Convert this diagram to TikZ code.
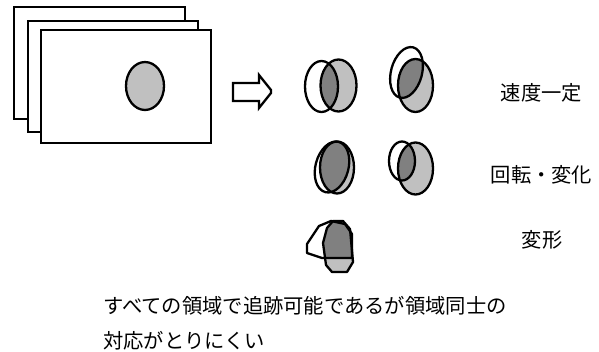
\documentclass[tikz,border=0pt]{standalone}
\usepackage{fontspec}
\setmainfont{Noto Sans CJK JP}
\definecolor{lg}{HTML}{C0C0C0}
\definecolor{dg}{HTML}{808080}
\begin{document}
\begin{tikzpicture}[x=1pt,y=-1pt,
  frame/.style={draw=black,fill=white,line width=2.7pt},
  outl/.style={draw=black,line width=2.3pt},
  lbl/.style={inner sep=0pt,font=\fontsize{20.3}{24}\selectfont}]
\useasboundingbox (0,0) rectangle (599,351);
% stacked frames
\draw[frame] (14,7) rectangle (185,119);
\draw[frame] (28,21) rectangle (198,132);
\draw[frame] (41,30) rectangle (211,143);
\draw[outl,fill=lg] (145,86) ellipse [x radius=19, y radius=24];
% hollow arrow
\draw[outl,line join=miter] (233,83) -- (259,83) -- (259,75) -- (271,90) -- (271,93) -- (259,108) -- (259,101) -- (233,101) -- cycle;
% row 1 left
\fill[white] (321.5,86.5) ellipse [x radius=16.5, y radius=25.5];
\fill[lg] (338.5,85.5) ellipse [x radius=18, y radius=26];
\begin{scope}
  \clip (321.5,86.5) ellipse [x radius=16.5, y radius=25.5];
  \fill[dg] (338.5,85.5) ellipse [x radius=18, y radius=26];
\end{scope}
\draw[outl] (321.5,86.5) ellipse [x radius=16.5, y radius=25.5];
\draw[outl] (338.5,85.5) ellipse [x radius=18, y radius=26];
% row 1 right
\fill[white,shift={(406.5,72.5)},rotate=-15] (0,0) ellipse [x radius=15.5, y radius=26];
\fill[lg] (415.5,85.5) ellipse [x radius=17.5, y radius=26.5];
\begin{scope}
  \clip[shift={(406.5,72.5)},rotate=-15] (0,0) ellipse [x radius=15.5, y radius=26];
  \fill[dg] (415.5,85.5) ellipse [x radius=17.5, y radius=26.5];
\end{scope}
\draw[outl,shift={(406.5,72.5)},rotate=-15] (0,0) ellipse [x radius=15.5, y radius=26];
\draw[outl] (415.5,85.5) ellipse [x radius=17.5, y radius=26.5];
% row 2 left
\fill[white,shift={(332,167)},rotate=-15] (0,0) ellipse [x radius=16.5, y radius=26];
\fill[lg] (337,167.5) ellipse [x radius=17, y radius=26];
\begin{scope}
  \clip[shift={(332,167)},rotate=-15] (0,0) ellipse [x radius=16.5, y radius=26];
  \fill[dg] (337,167.5) ellipse [x radius=17, y radius=26];
\end{scope}
\draw[outl,shift={(332,167)},rotate=-15] (0,0) ellipse [x radius=16.5, y radius=26];
\draw[outl] (337,167.5) ellipse [x radius=17, y radius=26];
% row 2 right
\fill[white] (402,161) ellipse [x radius=13, y radius=19.5];
\fill[lg] (415.5,168.5) ellipse [x radius=17.5, y radius=26];
\begin{scope}
  \clip (402,161) ellipse [x radius=13, y radius=19.5];
  \fill[dg] (415.5,168.5) ellipse [x radius=17.5, y radius=26];
\end{scope}
\draw[outl] (402,161) ellipse [x radius=13, y radius=19.5];
\draw[outl] (415.5,168.5) ellipse [x radius=17.5, y radius=26];
% row 3 deformed
\fill[white] (307,244) -- (319,226) -- (331,221) -- (345,224) -- (352,234) -- (352,258) -- (322,258) -- (307,253) -- cycle;
\fill[lg] (333,221) -- (343,221) -- (350,229) -- (353,262) -- (347,272) -- (332,272) -- (326,265) -- (323,243) -- (327,228) -- cycle;
\begin{scope}
  \clip (307,244) -- (319,226) -- (331,221) -- (345,224) -- (352,234) -- (352,258) -- (322,258) -- (307,253) -- cycle;
  \fill[dg] (333,221) -- (343,221) -- (350,229) -- (353,262) -- (347,272) -- (332,272) -- (326,265) -- (323,243) -- (327,228) -- cycle;
\end{scope}
\draw[outl,line join=round] (307,244) -- (319,226) -- (331,221) -- (345,224) -- (352,234) -- (352,258) -- (322,258) -- (307,253) -- cycle;
\draw[outl,line join=round] (333,221) -- (343,221) -- (350,229) -- (353,262) -- (347,272) -- (332,272) -- (326,265) -- (323,243) -- (327,228) -- cycle;
% labels
\node[lbl] (t1) at (541.5,92.5) {速度一定};
\node[lbl] (t2) at (541.5,175) {回転・変化};
\node[lbl] (t3) at (542,240) {変形};
\node[lbl,anchor=west] (c1) at (103,306) {すべての領域で追跡可能であるが領域同士の};
\node[lbl,anchor=west] (c2) at (103,341) {対応がとりにくい};
\end{tikzpicture}
\end{document}
